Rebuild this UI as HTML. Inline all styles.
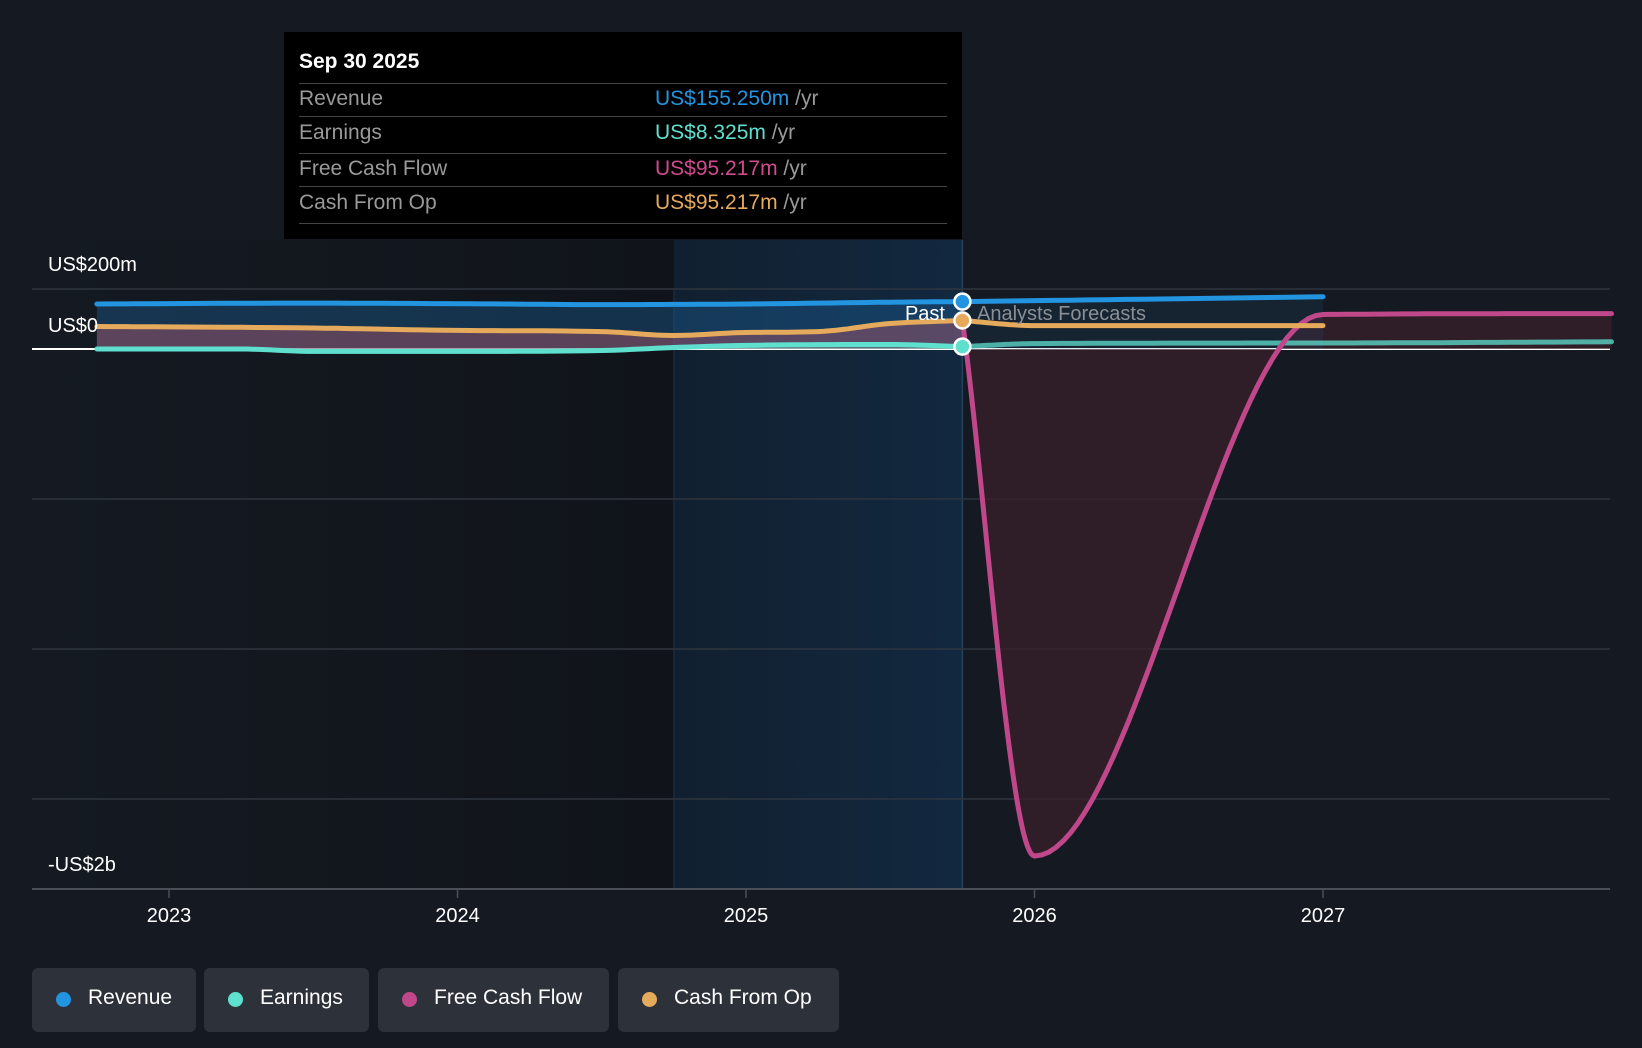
<!DOCTYPE html>
<html><head><meta charset="utf-8">
<style>
body{margin:0;background:#151a22;font-family:"Liberation Sans",sans-serif;}
svg{display:block}
</style></head>
<body>
<svg id="chart" width="1642" height="1048" viewBox="0 0 1642 1048">
<defs>
<linearGradient id="pastBg" x1="0" x2="1" y1="0" y2="0">
<stop offset="0" stop-color="#151a22"/><stop offset="1" stop-color="#10141a"/></linearGradient>
<linearGradient id="hiBg" x1="0" x2="1" y1="0" y2="0">
<stop offset="0" stop-color="#112030"/><stop offset="1" stop-color="#12283f"/></linearGradient>
</defs>
<rect width="1642" height="1048" fill="#151a22"/>
<g id="bg"></g>
<g id="grid"></g>
<g id="areas"></g>
<g id="lines"></g>
<g id="labels"></g>
</svg>
<script>
const years=[2023,2024,2025,2026,2027];
const yLabels=["US$200m","US$0","-US$2b"];
const revT=[2022.75,2023.5,2024.0,2024.5,2025.0,2025.5,2025.75];
const revV=[150,153,151,148,150,156,158];
const revFT=[2025.75,2027.0];
const revFV=[158,174];
const earnT=[2022.75,2023.25,2023.5,2024.0,2024.5,2024.75,2025.0,2025.5,2025.75];
const earnV=[0,0,-8,-8,-5,5,12,15,8];
const earnFT=[2025.75,2026.0,2027.0,2028.0];
const earnFV=[8,18,20,24];
const cfoT=[2022.75,2023.5,2024.0,2024.5,2024.75,2025.0,2025.25,2025.5,2025.75];
const cfoV=[75,70,62,58,45,55,58,85,95];
const cfoFT=[2025.75,2026.0,2027.0];
const cfoFV=[95,78,78];
const fcfT=cfoT, fcfV=cfoV;
const fcfFT=[2025.75,2026.0,2027.0,2028.0];
const fcfFV=[95,-1690,115,118];

const NS="http://www.w3.org/2000/svg";
const X=t=>169+(t-2023)*288.5;
const Y=v=>349-0.3*v;
const pastX=X(2025.75);
function el(tag,attrs,parent){const e=document.createElementNS(NS,tag);for(const k in attrs)e.setAttribute(k,attrs[k]);document.getElementById(parent).appendChild(e);return e;}
function mono(ts,vs,n){
  const k=ts.length,d=[],m=[];
  for(let i=0;i<k-1;i++)d.push((vs[i+1]-vs[i])/(ts[i+1]-ts[i]));
  for(let i=0;i<k;i++){if(i==0)m.push(d[0]);else if(i==k-1)m.push(d[k-2]);else m.push(d[i-1]*d[i]<=0?0:(d[i-1]+d[i])/2);}
  for(let i=0;i<k-1;i++){if(d[i]==0){m[i]=0;m[i+1]=0;continue;}const a=m[i]/d[i],b=m[i+1]/d[i];const s=a*a+b*b;if(s>9){const t=3/Math.sqrt(s);m[i]=t*a*d[i];m[i+1]=t*b*d[i];}}
  const pts=[];
  for(let i=0;i<k-1;i++){const h=ts[i+1]-ts[i];for(let j=0;j<n;j++){const u=j/n;const h00=2*u*u*u-3*u*u+1,h10=u*u*u-2*u*u+u,h01=-2*u*u*u+3*u*u,h11=u*u*u-u*u;
    pts.push([X(ts[i]+u*h),Y(h00*vs[i]+h10*h*m[i]+h01*vs[i+1]+h11*h*m[i+1])]);}}
  pts.push([X(ts[k-1]),Y(vs[k-1])]);return pts;}
const P=p=>p.map((q,i)=>(i?'L':'M')+q[0].toFixed(1)+' '+q[1].toFixed(1)).join(' ');
function area(p){return P(p)+` L${p[p.length-1][0]} ${Y(0)} L${p[0][0]} ${Y(0)} Z`;}

let r=el('rect',{x:32,y:240,width:X(2024.75)-32,height:649,fill:'url(#pastBg)'},'bg');

r=el('rect',{x:X(2024.75),y:240,width:pastX-X(2024.75),height:649,fill:'url(#hiBg)'},'bg');

el('line',{x1:X(2024.75),x2:X(2024.75),y1:289,y2:889,stroke:'#1d3349','stroke-width':1},'bg');
el('line',{x1:pastX,x2:pastX,y1:240,y2:889,stroke:'#25425e','stroke-width':1.5},'bg');

[289,499,649,799].forEach(y=>{const g=el('line',{x1:32,x2:1610,y1:y,y2:y,stroke:'#2f353e','stroke-width':1.5},'grid');});
let z=el('line',{x1:32,x2:1610,y1:349,y2:349,stroke:'#ffffff','stroke-width':2},'grid');

let ax=el('line',{x1:32,x2:1610,y1:889,y2:889,stroke:'#4a4f57','stroke-width':2},'grid');

years.forEach(yr=>{const x=X(yr);
  el('line',{x1:x,x2:x,y1:889,y2:898,stroke:'#4a4f57','stroke-width':1.5},'grid');
  const t=el('text',{x:x,y:922,'text-anchor':'middle',fill:'#fff','font-size':20},'labels');t.textContent=yr;
  });
[[264,0],[325,1],[864,2]].forEach(([y,i])=>{const t=el('text',{x:48,y:y+7,fill:'#fff','font-size':20},'labels');t.textContent=yLabels[i];
  });

const rev=mono(revT,revV,12),earn=mono(earnT,earnV,12),cfo=mono(cfoT,cfoV,12),fcf=mono(fcfT,fcfV,12);
const revF=mono(revFT,revFV,20),earnF=mono(earnFT,earnFV,20),cfoF=mono(cfoFT,cfoFV,20),fcfF=mono(fcfFT,fcfFV,40);
let a=el('path',{d:area(rev),fill:'#1e6aa8','fill-opacity':0.35},'areas');
a=el('path',{d:area(cfo),fill:'#b0566a','fill-opacity':0.45},'areas');
a=el('path',{d:area(earn),fill:'#58c8c0','fill-opacity':0.3},'areas');
a=el('path',{d:area(fcfF),fill:'#3a1f2a','fill-opacity':0.7},'areas');
a=el('path',{d:area(revF),fill:'#1e6aa8','fill-opacity':0.12},'areas');

function line(p,c,name,op){const l=el('path',{d:P(p),fill:'none',stroke:c,'stroke-width':5,'stroke-linecap':'round','stroke-opacity':op||1},'lines');}
line(rev,'#2394e0','revenue-line');line(revF,'#2394e0','revenue-forecast-line');
line(earn,'#5fe0cf','earnings-line');line(earnF,'#5fe0cf','earnings-forecast-line',0.75);
line(fcfF,'#c0478a','fcf-forecast-line');
line(cfo,'#e6aa5c','cash-from-op-line');line(cfoF,'#e6aa5c','cash-from-op-forecast-line');
[[revV[revV.length-1],'#2394e0','revenue-marker'],[cfoV[cfoV.length-1],'#e6aa5c','cash-from-op-marker'],[earnV[earnV.length-1],'#5fe0cf','earnings-marker']].forEach(([v,c,n])=>{
  const m=el('circle',{cx:pastX,cy:Y(v),r:8,fill:c,stroke:'#fff','stroke-width':2.5},'lines');});
let t=el('text',{x:945,y:320,'text-anchor':'end',fill:'#fff','font-size':20},'labels');t.textContent='Past';
t=el('text',{x:977,y:320,fill:'#8a8f96','font-size':20},'labels');t.textContent='Analysts Forecasts';
</script>

<div style="position:absolute;left:284px;top:32px;width:678px;height:207px;background:#000;color:#fff;font-size:21px;">
  <div style="position:absolute;left:15px;top:18px;font-weight:bold;font-size:21px">Sep 30 2025</div>
  <div style="position:absolute;left:15px;right:15px;top:51px;border-top:1.5px solid #444"></div>
  <div style="position:absolute;left:15px;right:15px;top:84px;border-top:1.5px solid #444"></div>
  <div style="position:absolute;left:15px;right:15px;top:121px;border-top:1.5px solid #444"></div>
  <div style="position:absolute;left:15px;right:15px;top:154px;border-top:1.5px solid #444"></div>
  <div style="position:absolute;left:15px;right:15px;top:191px;border-top:1.5px solid #444"></div>
  <div style="position:absolute;left:15px;top:55px;color:#9a9a9a">Revenue</div>
  <div style="position:absolute;left:371px;top:55px"><span style="color:#2394e0">US$155.250m</span> <span style="color:#9a9a9a">/yr</span></div>
  <div style="position:absolute;left:15px;top:89px;color:#9a9a9a">Earnings</div>
  <div style="position:absolute;left:371px;top:89px"><span style="color:#5fe0cf">US$8.325m</span> <span style="color:#9a9a9a">/yr</span></div>
  <div style="position:absolute;left:15px;top:125px;color:#9a9a9a">Free Cash Flow</div>
  <div style="position:absolute;left:371px;top:125px"><span style="color:#d04a8e">US$95.217m</span> <span style="color:#9a9a9a">/yr</span></div>
  <div style="position:absolute;left:15px;top:159px;color:#9a9a9a">Cash From Op</div>
  <div style="position:absolute;left:371px;top:159px"><span style="color:#e6aa5c">US$95.217m</span> <span style="color:#9a9a9a">/yr</span></div>
</div>

<div style="position:absolute;left:0;top:968px;color:#fff;font-size:21px">
  <div style="position:absolute;left:32px;width:164px;height:64px;background:#2c313a;border-radius:6px"><span style="position:absolute;left:24px;top:24px;width:15px;height:15px;border-radius:50%;background:#2394e0"></span><span style="position:absolute;left:56px;top:18px">Revenue</span></div>
  <div style="position:absolute;left:204px;width:165px;height:64px;background:#2c313a;border-radius:6px"><span style="position:absolute;left:24px;top:24px;width:15px;height:15px;border-radius:50%;background:#5fe0cf"></span><span style="position:absolute;left:56px;top:18px">Earnings</span></div>
  <div style="position:absolute;left:378px;width:231px;height:64px;background:#2c313a;border-radius:6px"><span style="position:absolute;left:24px;top:24px;width:15px;height:15px;border-radius:50%;background:#c0478a"></span><span style="position:absolute;left:56px;top:18px">Free Cash Flow</span></div>
  <div style="position:absolute;left:618px;width:221px;height:64px;background:#2c313a;border-radius:6px"><span style="position:absolute;left:24px;top:24px;width:15px;height:15px;border-radius:50%;background:#e6aa5c"></span><span style="position:absolute;left:56px;top:18px">Cash From Op</span></div>
</div>
</body></html>
